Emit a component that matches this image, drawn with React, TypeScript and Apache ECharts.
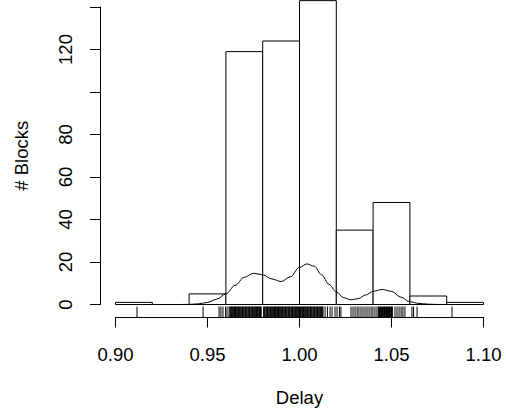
import React, { useEffect, useRef } from "react";
import * as echarts from "echarts";

// Histogram bins (Delay) and counts (# Blocks)
const binStarts = [0.9, 0.92, 0.94, 0.96, 0.98, 1.0, 1.02, 1.04, 1.06, 1.08];
const binEnds = [0.92, 0.94, 0.96, 0.98, 1.0, 1.02, 1.04, 1.06, 1.08, 1.1];
const binCounts = [1, 0, 5, 119, 124, 143, 35, 48, 4, 1];

// Density curve (scaled)
const densityX = [
  0.935, 0.94, 0.945, 0.95, 0.955, 0.96, 0.965, 0.97, 0.975, 0.98, 0.985, 0.99,
  0.995, 1.0, 1.004, 1.008, 1.012, 1.016, 1.02, 1.024, 1.028, 1.032, 1.036, 1.04,
  1.045, 1.05, 1.055, 1.06, 1.065, 1.07, 1.075, 1.08,
];
const densityY = [
  0.0, 0.05, 0.3, 1.0, 2.5, 5.0, 9.0, 12.8, 14.7, 14.0, 12.0, 10.8,
  13.0, 17.5, 19.1, 18.0, 14.0, 9.5, 6.0, 3.2, 2.2, 2.8, 4.5, 6.2,
  7.1, 6.2, 3.5, 1.3, 0.5, 0.15, 0.03, 0.0,
];

// Rug of observed delays
const rugValues = [
  0.9117, 0.9476, 0.9563, 0.9573, 0.9584, 0.9598, 0.9606, 0.9617,
  0.9622, 0.9626, 0.963, 0.9635, 0.9639, 0.9643, 0.9647, 0.9652, 0.9656, 0.966,
  0.9664, 0.9669, 0.9673, 0.9677, 0.9681, 0.9686, 0.969, 0.9694, 0.9698, 0.9703,
  0.9707, 0.9711, 0.9715, 0.972, 0.9724, 0.9728, 0.9732, 0.9737, 0.9741, 0.9745,
  0.9749, 0.9754, 0.9758, 0.9762, 0.9766, 0.9771, 0.9775, 0.9779, 0.9783, 0.9788,
  0.9792, 0.9805, 0.9809, 0.9813, 0.9818, 0.9822, 0.9826, 0.983, 0.9835, 0.9839,
  0.9843, 0.9847, 0.9852, 0.9856, 0.986, 0.9864, 0.9869, 0.9873, 0.9877, 0.9881,
  0.9886, 0.989, 0.9894, 0.9898, 0.9903, 0.9907, 0.9911, 0.9915, 0.992, 0.9924,
  0.9928, 0.9932, 0.9937, 0.9941, 0.9945, 0.9949, 0.9954, 0.9958, 0.9962, 0.9966,
  0.9971, 0.9975, 0.9979, 0.9983, 0.9988, 0.9992, 0.9996, 1.0, 1.0005, 1.0009,
  1.0013, 1.0017, 1.0022, 1.0026, 1.003, 1.0034, 1.0039, 1.0043, 1.0047, 1.0051,
  1.0056, 1.006, 1.0064, 1.0068, 1.0073, 1.0077, 1.0081, 1.0085, 1.009, 1.0094,
  1.0098, 1.0102, 1.0107, 1.0111, 1.0115, 1.0119, 1.0124, 1.0128,
  1.0139, 1.0152, 1.0166, 1.0177, 1.0193, 1.0204, 1.0217, 1.0225,
  1.028, 1.0291, 1.0302, 1.0313, 1.0323, 1.0334, 1.0345, 1.0356, 1.0367, 1.0378,
  1.0389, 1.0399, 1.041, 1.0421,
  1.0429, 1.0435, 1.044, 1.0446, 1.0451, 1.0457, 1.0462, 1.0467, 1.0473, 1.0478,
  1.0484, 1.0489, 1.0495, 1.05, 1.0505,
  1.0519, 1.053, 1.0541, 1.0552, 1.0562, 1.0573,
  1.0611, 1.062, 1.0639, 1.0829,
];

const hiddenYLabels = [100, 140];
const xName = "Delay";
const yName = "# Blocks";

const FONT = "'Liberation Sans', Arial, Helvetica, sans-serif";

export default function App() {
  const ref = useRef<HTMLDivElement>(null);

  useEffect(() => {
    if (!ref.current) return;
    const chart = echarts.init(ref.current, null, { renderer: "svg" });

    const histData = binStarts.map((s, i) => [s, binEnds[i], binCounts[i]]);
    const densData = densityX.map((x, i) => [x, densityY[i]]);
    const rugData = rugValues.map((v) => [v]);

    chart.setOption({
      animation: false,
      backgroundColor: "#ffffff",
      grid: { left: 115.5, right: 22.5, top: 7, bottom: 108.5, containLabel: false },
      xAxis: {
        type: "value",
        min: 0.9,
        max: 1.1,
        interval: 0.05,
        offset: 12.5,
        splitLine: { show: false },
        axisLine: { show: true, onZero: false, lineStyle: { color: "#000", width: 1 } },
        axisTick: { show: true, length: 10.5, lineStyle: { color: "#000", width: 1 } },
        axisLabel: {
          color: "#000",
          fontFamily: FONT,
          fontSize: 18.5,
          margin: 27.5,
          formatter: (v: number) => v.toFixed(2),
        },
        name: xName,
        nameLocation: "middle",
        nameGap: 70.5,
        nameTextStyle: { color: "#000", fontFamily: FONT, fontSize: 18.5 },
      },
      yAxis: {
        type: "value",
        min: 0,
        max: 140,
        interval: 20,
        offset: 15.5,
        splitLine: { show: false },
        axisLine: { show: true, lineStyle: { color: "#000", width: 1 } },
        axisTick: { show: true, length: 10, lineStyle: { color: "#000", width: 1 } },
        axisLabel: {
          color: "#000",
          fontFamily: FONT,
          fontSize: 18.5,
          rotate: 90,
          margin: 25,
          formatter: (v: number) => (hiddenYLabels.indexOf(v) >= 0 ? "" : String(v)),
        },
        name: yName,
        nameLocation: "middle",
        nameGap: 69,
        nameRotate: 90,
        nameTextStyle: { color: "#000", fontFamily: FONT, fontSize: 18.5 },
      },
      series: [
        {
          type: "custom",
          clip: false,
          data: histData,
          renderItem: (params: any, api: any) => {
            const x0 = api.value(0);
            const x1 = api.value(1);
            const c = api.value(2);
            const pTop = api.coord([x0, c]);
            const pBot = api.coord([x1, 0]);
            const h = pBot[1] - pTop[1];
            if (h < 0.5) {
              return {
                type: "line",
                shape: { x1: pTop[0], y1: pBot[1], x2: pBot[0], y2: pBot[1] },
                style: { stroke: "#000", lineWidth: 1 },
              };
            }
            return {
              type: "rect",
              shape: { x: pTop[0], y: pTop[1], width: pBot[0] - pTop[0], height: h },
              style: { fill: "#fff", stroke: "#000", lineWidth: 1 },
            };
          },
          z: 1,
        },
        {
          type: "line",
          data: densData,
          smooth: 0.35,
          smoothMonotone: "x",
          symbol: "none",
          lineStyle: { color: "#000", width: 1 },
          z: 2,
        },
        {
          type: "custom",
          clip: false,
          data: rugData,
          renderItem: (params: any, api: any) => {
            const p = api.coord([api.value(0), 0]);
            return {
              type: "line",
              shape: { x1: p[0], y1: p[1] + 2, x2: p[0], y2: p[1] + 12.5 },
              style: { stroke: "#000", lineWidth: 1 },
            };
          },
          z: 3,
        },
      ],
    });

    return () => {
      chart.dispose();
    };
  }, []);

  return (
    <div
      ref={ref}
      style={{ position: "fixed", left: 0, top: 0, width: 506, height: 413, background: "#fff" }}
    />
  );
}
